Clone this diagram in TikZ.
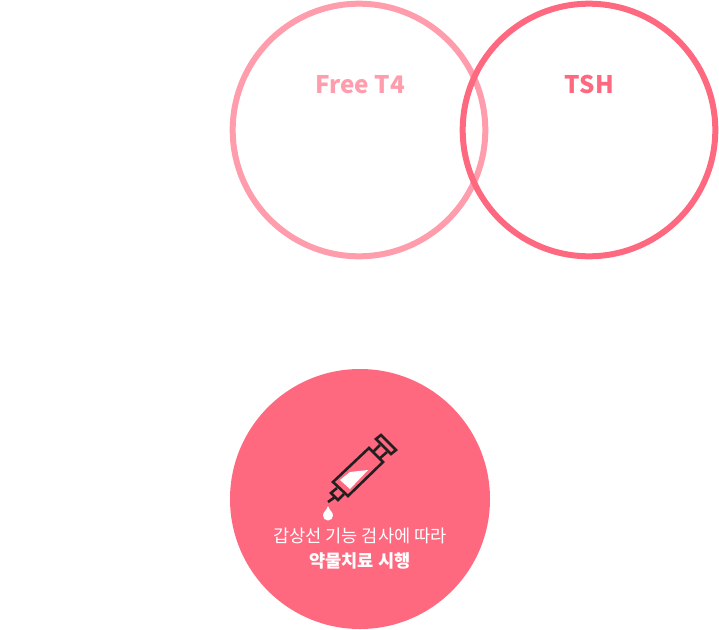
\documentclass[tikz,border=0pt]{standalone}
\usepackage{fontspec}
\setmainfont{Noto Sans CJK KR}
\definecolor{lightpink}{HTML}{FF9DAD}
\definecolor{strongpink}{HTML}{FF6980}
\definecolor{icondark}{HTML}{231F20}
\tikzset{
  ring/.style={circle,draw,line width=6pt,minimum size=252.6pt,inner sep=0pt},
  ringlabel/.style={font=\bfseries\fontsize{24.2}{28}\selectfont,inner sep=0pt,anchor=base},
  icon/.style={draw=icondark,line width=2.6pt,line join=miter},
  caption/.style={text=white,font=\fontsize{17.6}{24.5}\selectfont,align=center,inner sep=0pt}
}
\begin{document}
\begin{tikzpicture}[x=1pt,y=-1pt]
\useasboundingbox (0,0) rectangle (719,629);
\node[ring,draw=lightpink] (ft4) at (359,130) {};
\node[ring,draw=strongpink] (tsh) at (589,130) {};
\node[ringlabel,text=lightpink] (ft4label) at (360,93.5) {Free T4};
\node[ringlabel,text=strongpink] (tshlabel) at (589.5,93.5) {TSH};
\node[circle,fill=strongpink,minimum size=260pt,inner sep=0pt] (disc) at (360,499) {};
% syringe
\fill[white] (350,472) -- (368,470) -- (350,489) -- (340,480) -- cycle;
\draw[icon] (369,448) -- (383,462) -- (348,496) -- (333,482) -- cycle;
\draw[icon] (373,452) -- (380,445) (379,459) -- (387,452);
\draw[icon] (381,435) -- (396,450) -- (391,454) -- (376,439) -- cycle;
\draw[icon] (337,488) -- (331,493) -- (338,500) -- (344,494);
\draw[icon] (335,497) -- (328,502);
\fill[white] (328,506) .. controls (329,510) and (333,512) .. (333,515.5) arc[start angle=0,end angle=180,radius=5] .. controls (323,512) and (327,510) .. (328,506) -- cycle;
\node[caption] (cap) at (360,548.5) {갑상선 기능 검사에 따라\\{\bfseries 약물치료 시행}};
\end{tikzpicture}
\end{document}
